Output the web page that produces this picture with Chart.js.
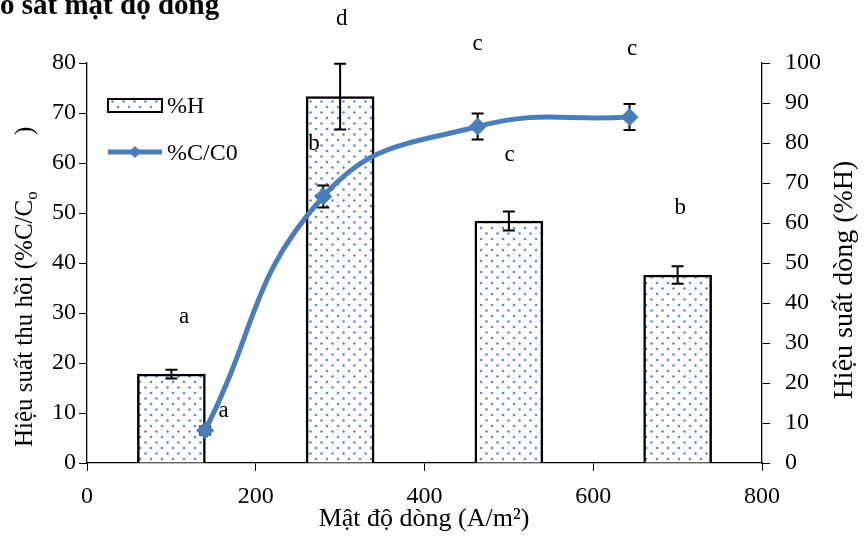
<!DOCTYPE html>
<html>
<head>
<meta charset="utf-8">
<script src="https://cdn.jsdelivr.net/npm/chart.js@4.4.0/dist/chart.umd.min.js"></script>
<style>
  body { margin: 0; background: #fff; }
  #wrap { width: 864px; height: 546px; position: relative; }
</style>
</head>
<body>
<div id="wrap"><canvas id="chart"></canvas></div>
<script>
// %H bars (right axis)
const barX = [100, 300, 500, 700];
const barH = [22.2, 91.6, 60.5, 47.0];
const barErr = [1.1, 8.2, 2.4, 2.2];

// %C/C0 line (left axis)
const lineX = [140, 280, 463, 643];
const lineC = [6.5, 53.3, 67.3, 69.2];
const lineErr = [0.8, 2.2, 2.6, 2.6];

// tick labels
const xTicks = [0, 200, 400, 600, 800];
const leftTicks = [0, 10, 20, 30, 40, 50, 60, 70, 80];
const rightTicks = [0, 10, 20, 30, 40, 50, 60, 70, 80, 90, 100];

// significance letters, x in A/m2, y in left-axis units (baseline)
const letters = ["a", "a", "d", "b", "c", "c", "c", "b"];
const letterX = [115, 162, 302, 269, 501, 463, 646, 703];
const letterY = [28.1, 9.2, 87.7, 62.7, 60.5, 82.7, 81.7, 49.9];

const FONT = '"Liberation Serif", "Times New Roman", serif';
const BLUE = "#4A7EBB";

// dotted fill like the Excel pattern
function makeDots() {
    const c = document.createElement("canvas");
    c.width = 11;
    c.height = 11;
    const g = c.getContext("2d");
    g.fillStyle = "#fff";
    g.fillRect(0, 0, 11, 11);
    g.fillStyle = "rgba(79,129,189,0.9)";
    [[2.5, 2.5], [8, 8]].forEach(function (p) {
        g.beginPath();
        g.arc(p[0], p[1], 1.3, 0, Math.PI * 2);
        g.fill();
    });
    return document.getElementById("chart").getContext("2d").createPattern(c, "repeat");
}
const dots = makeDots();

function drawErr(chart, yScale, xs, ys, errs) {
    const ctx = chart.ctx;
    const xs_ = chart.scales.x;
    ctx.save();
    ctx.strokeStyle = "#000";
    ctx.lineWidth = 2;
    for (let i = 0; i < xs.length; i++) {
        const px = xs_.getPixelForValue(xs[i]);
        const top = yScale.getPixelForValue(ys[i] + errs[i]);
        const bot = yScale.getPixelForValue(ys[i] - errs[i]);
        ctx.beginPath();
        ctx.moveTo(px, top);
        ctx.lineTo(px, bot);
        ctx.moveTo(px - 6, top);
        ctx.lineTo(px + 6, top);
        ctx.moveTo(px - 6, bot);
        ctx.lineTo(px + 6, bot);
        ctx.stroke();
    }
    ctx.restore();
}

const extras = {
    id: "extras",
    beforeDatasetDraw(chart, args) {
        if (args.meta.type === "line") {
            drawErr(chart, chart.scales.y, lineX, lineC, lineErr);
        }
    },
    afterDatasetDraw(chart, args) {
        if (args.meta.type === "bar") {
            drawErr(chart, chart.scales.y1, barX, barH, barErr);
        }
    },
    afterDraw(chart) {
        const ctx = chart.ctx;
        const sx = chart.scales.x;
        const sy = chart.scales.y;
        ctx.save();
        ctx.fillStyle = "#000";

        // title, cut off at the left edge like the source
        ctx.font = "bold 29px " + FONT;
        ctx.textAlign = "left";
        ctx.textBaseline = "alphabetic";
        const cut = ctx.measureText("Khả").width;
        ctx.fillText("Khảo sát mật độ dòng", -cut, 14);

        // letters
        ctx.font = "23px " + FONT;
        ctx.textAlign = "center";
        for (let i = 0; i < letters.length; i++) {
            ctx.fillText(letters[i], sx.getPixelForValue(letterX[i]), sy.getPixelForValue(letterY[i]));
        }

        // x title
        ctx.font = "26px " + FONT;
        ctx.fillText("Mật độ dòng (A/m²)", 424, 526);

        // right title
        ctx.save();
        ctx.translate(852, 280);
        ctx.rotate(-Math.PI / 2);
        ctx.font = "28px " + FONT;
        ctx.fillText("Hiệu suất dòng (%H)", 0, 0);
        ctx.restore();

        // left title with subscript
        ctx.save();
        ctx.translate(32, 447);
        ctx.rotate(-Math.PI / 2);
        ctx.textAlign = "left";
        const main = "Hiệu suất thu hồi (%C/C";
        ctx.font = "25px " + FONT;
        ctx.fillText(main, 0, 0);
        const w = ctx.measureText(main).width;
        ctx.font = "17px " + FONT;
        ctx.fillText("o", w, 5);
        ctx.font = "25px " + FONT;
        ctx.fillText(")", 312, 0);
        ctx.restore();

        // legend
        ctx.fillStyle = dots;
        ctx.fillRect(108, 99, 54, 13);
        ctx.strokeStyle = "#000";
        ctx.lineWidth = 2;
        ctx.strokeRect(108, 99, 54, 13);
        ctx.strokeStyle = BLUE;
        ctx.lineWidth = 5;
        ctx.beginPath();
        ctx.moveTo(108, 152);
        ctx.lineTo(162, 152);
        ctx.stroke();
        ctx.fillStyle = BLUE;
        ctx.beginPath();
        ctx.moveTo(135, 146);
        ctx.lineTo(141, 152);
        ctx.lineTo(135, 158);
        ctx.lineTo(129, 152);
        ctx.closePath();
        ctx.fill();
        ctx.fillStyle = "#000";
        ctx.font = "24px " + FONT;
        ctx.textAlign = "left";
        ctx.fillText("%H", 167, 113);
        ctx.fillText("%C/C0", 167, 160);
        ctx.restore();
    }
};

const axisFont = { family: FONT, size: 24 };

const chart = new Chart(document.getElementById("chart"), {
    type: "bar",
    data: {
        datasets: [
            {
                type: "line",
                label: "%C/C0",
                data: lineX.map((x, i) => ({ x: x, y: lineC[i] })),
                yAxisID: "y",
                borderColor: BLUE,
                backgroundColor: BLUE,
                borderWidth: 5,
                tension: 0.45,
                pointStyle: "rectRot",
                pointRadius: 9,
                pointBorderWidth: 0,
                pointBackgroundColor: BLUE,
                fill: false
            },
            {
                type: "bar",
                label: "%H",
                data: barX.map((x, i) => ({ x: x, y: barH[i] })),
                yAxisID: "y1",
                backgroundColor: dots,
                borderColor: "#000",
                borderWidth: 2.5,
                barThickness: 68
            }
        ]
    },
    options: {
        responsive: true,
        maintainAspectRatio: false,
        animation: false,
        layout: { padding: { top: 63, left: 0, right: 0, bottom: 0 } },
        plugins: {
            legend: { display: false },
            tooltip: { enabled: false }
        },
        scales: {
            x: {
                type: "linear",
                offset: false,
                min: xTicks[0],
                max: xTicks[xTicks.length - 1],
                ticks: { stepSize: xTicks[1] - xTicks[0], color: "#000", font: axisFont, padding: 11 },
                grid: { offset: false, drawOnChartArea: false, tickLength: 8, color: "#000" },
                border: { color: "#000", width: 1.3 },
                afterFit(s) { s.height = 83; }
            },
            y: {
                position: "left",
                min: leftTicks[0],
                max: leftTicks[leftTicks.length - 1],
                ticks: { stepSize: leftTicks[1] - leftTicks[0], color: "#000", font: axisFont, padding: 3 },
                grid: { drawOnChartArea: false, tickLength: 8, color: "#000" },
                border: { color: "#000", width: 1.3 },
                afterFit(s) { s.width = 87; }
            },
            y1: {
                position: "right",
                min: rightTicks[0],
                max: rightTicks[rightTicks.length - 1],
                ticks: { stepSize: rightTicks[1] - rightTicks[0], color: "#000", font: axisFont, padding: 15 },
                grid: { drawOnChartArea: false, tickLength: 8, color: "#000" },
                border: { color: "#000", width: 1.3 },
                afterFit(s) { s.width = 102; }
            }
        }
    },
    plugins: [extras]
});
</script>
</body>
</html>
